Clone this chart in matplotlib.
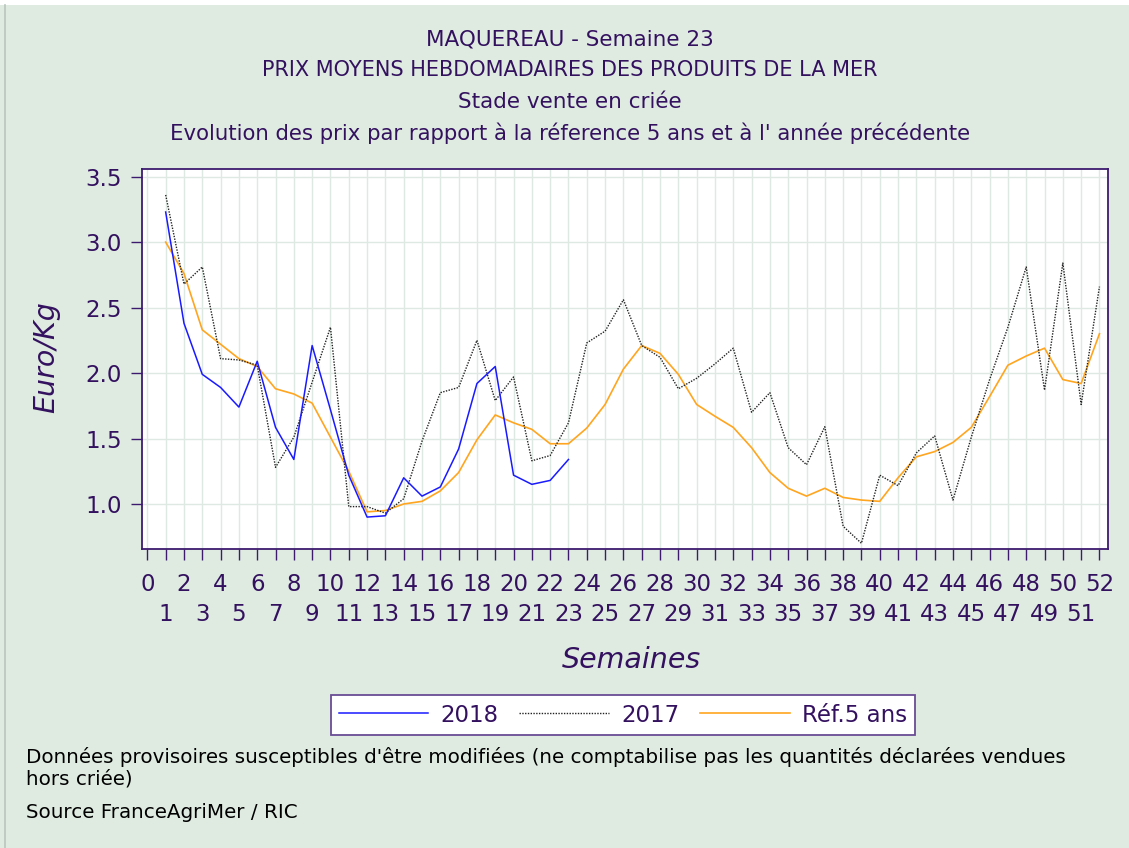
import matplotlib
matplotlib.use("Agg")
import matplotlib.pyplot as plt
from matplotlib.lines import Line2D
from matplotlib.patches import Rectangle

weeks_2018 = list(range(1, 24))
prix_2018 = [3.23, 2.38, 1.99, 1.89, 1.74, 2.09, 1.585, 1.34, 2.21, 1.72,
             1.22, 0.90, 0.91, 1.20, 1.06, 1.13, 1.42, 1.92, 2.05, 1.22,
             1.15, 1.18, 1.34]

weeks_full = list(range(1, 53))
prix_2017 = [3.36, 2.68, 2.81, 2.11, 2.10, 2.06, 1.28, 1.51, 1.93, 2.35,
             0.98, 0.98, 0.93, 1.04, 1.48, 1.85, 1.89, 2.25, 1.79, 1.97,
             1.33, 1.37, 1.62, 2.23, 2.32, 2.56, 2.21, 2.12, 1.88, 1.96,
             2.07, 2.19, 1.70, 1.85, 1.43, 1.30, 1.59, 0.83, 0.70, 1.22,
             1.14, 1.39, 1.52, 1.03, 1.51, 1.95, 2.35, 2.81, 1.87, 2.84,
             1.76, 2.66]
ref_5ans = [3.00, 2.76, 2.33, 2.22, 2.11, 2.05, 1.88, 1.84, 1.77, 1.51,
            1.25, 0.94, 0.95, 1.00, 1.02, 1.10, 1.24, 1.49, 1.68, 1.62,
            1.57, 1.46, 1.46, 1.58, 1.76, 2.03, 2.21, 2.15, 1.99, 1.76,
            1.67, 1.585, 1.43, 1.24, 1.12, 1.06, 1.12, 1.05, 1.03, 1.02,
            1.20, 1.36, 1.40, 1.47, 1.585, 1.82, 2.06, 2.13, 2.19, 1.95,
            1.92, 2.30]

series_labels = ["2018", "2017", "Réf.5 ans"]
title_lines = ["MAQUEREAU - Semaine 23",
               "PRIX MOYENS HEBDOMADAIRES DES PRODUITS DE LA MER",
               "Stade vente en criée",
               "Evolution des prix par rapport à la réference 5 ans et à l' année précédente"]
y_ticks = [1.0, 1.5, 2.0, 2.5, 3.0, 3.5]
x_even = list(range(0, 53, 2))
x_odd = list(range(1, 52, 2))

W, H = 1129, 848
BG = "#dfebe1"
PURPLE = "#34115f"
FRAME = "#3d1a6e"
GRID = "#dfe9e3"

plt.rcParams['font.family'] = ['DejaVu Sans']
fig = plt.figure(figsize=(W / 100, H / 100), dpi=100, facecolor=BG)

# top white strip and left border line
fig.patches.append(Rectangle((0, 1 - 5 / H), 1, 5 / H, transform=fig.transFigure,
                             facecolor="white", edgecolor="none", zorder=0))
fig.lines.append(Line2D([4.5 / W, 4.5 / W], [0, 1 - 5 / H], transform=fig.transFigure,
                        color="#b9c5bd", linewidth=1.2))

left, right, top, bottom = 141.5, 1107.7, 169.3, 548.5
ax = fig.add_axes([left / W, 1 - bottom / H, (right - left) / W, (bottom - top) / H])
ax.set_facecolor("white")

ax.plot(weeks_2018, prix_2018, color="#1a1aff", linewidth=1.1, label=series_labels[0], zorder=4)
ax.plot(weeks_full, prix_2017, color="#222222", linewidth=1.0, linestyle=(0, (1, 1)),
        label=series_labels[1], zorder=3)
ax.plot(weeks_full, ref_5ans, color="#ffa51f", linewidth=1.2, label=series_labels[2], zorder=2)

ax.set_xlim(-0.32, 52.45)
ax.set_ylim(0.66, 3.556)

ax.set_yticks(y_ticks)
ax.set_yticklabels([f"{v:.1f}" for v in y_ticks])
ax.set_xticks(x_even)
ax.set_xticklabels([str(v) for v in x_even])
ax.set_xticks(x_odd, minor=True)
ax.set_xticklabels([str(v) for v in x_odd], minor=True)

ax.tick_params(axis='x', which='major', length=8, width=1, color=FRAME, pad=9.4,
               labelsize=16.5, labelcolor=PURPLE)
ax.tick_params(axis='x', which='minor', length=8, width=1, color=FRAME, pad=31.4,
               labelsize=16.5, labelcolor=PURPLE)
ax.tick_params(axis='y', which='major', length=8, width=1, color=FRAME, pad=6,
               labelsize=16.5, labelcolor=PURPLE)

ax.grid(True, which='both', axis='x', color=GRID, linewidth=1.0, zorder=0)
ax.grid(True, which='major', axis='y', color=GRID, linewidth=1.0, zorder=0)
ax.set_axisbelow(True)
for s in ax.spines.values():
    s.set_color(FRAME)
    s.set_linewidth(1.3)

# titles
title_y = [40, 70, 102, 133]
title_sizes = [15.5, 15, 15.5, 15.3]
for txt, yy, fs in zip(title_lines, title_y, title_sizes):
    fig.text(570 / W, 1 - yy / H, txt, ha="center", va="center", fontsize=fs, color=PURPLE)

fig.text(46 / W, 1 - 357 / H, "Euro/Kg", rotation=90, ha="center", va="center",
         fontsize=20.5, style="italic", color=PURPLE)
fig.text(631 / W, 1 - 660 / H, "Semaines", ha="center", va="center",
         fontsize=20.5, style="italic", color=PURPLE)

leg = fig.legend(loc="center", bbox_to_anchor=(623 / W, 1 - 715 / H), ncol=3,
                 frameon=True, fancybox=False, framealpha=1, fontsize=16.5, handlelength=3.9,
                 handletextpad=0.55, columnspacing=0.9, borderpad=0.35,
                 labelcolor=PURPLE)
leg.get_frame().set_edgecolor("#6a4c94")
leg.get_frame().set_linewidth(1.3)
leg.get_frame().set_facecolor("white")

foot_size = 14.3
fig.text(26 / W, 1 - 757 / H,
         "Données provisoires susceptibles d'être modifiées (ne comptabilise pas les quantités déclarées vendues",
         ha="left", va="center", fontsize=foot_size, color="black")
fig.text(26 / W, 1 - 779 / H, "hors criée)", ha="left", va="center", fontsize=foot_size, color="black")
fig.text(26 / W, 1 - 813 / H, "Source FranceAgriMer / RIC", ha="left", va="center",
         fontsize=foot_size, color="black")

fig.savefig("out.png", dpi=100, facecolor=BG)
